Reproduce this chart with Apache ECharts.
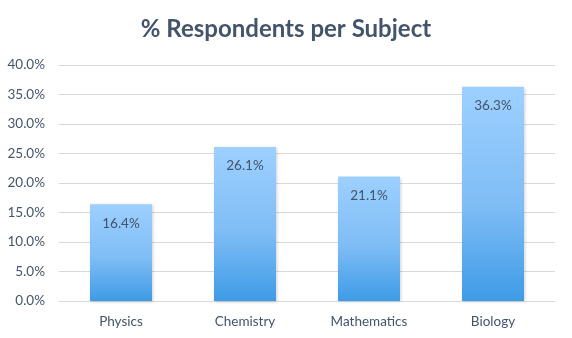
<!DOCTYPE html>
<html>
<head>
<meta charset="utf-8">
<script src="https://cdn.jsdelivr.net/npm/echarts@6/dist/echarts.min.js"></script>
<style>
  html, body { margin: 0; padding: 0; background: #fff; }
  #chart { width: 572px; height: 338px; }
</style>
</head>
<body>
<div id="chart"></div>
<script>
// Share of respondents by subject (percent)
const subjects = ['Physics', 'Chemistry', 'Mathematics', 'Biology'];
const respondentShare = [16.4, 26.1, 21.1, 36.3];

const chart = echarts.init(document.getElementById('chart'), null, { renderer: 'canvas' });

const textColor = '#44546A';
const fontFamily = 'Lato, "Open Sans", sans-serif';

chart.setOption({
  animation: false,
  title: {
    text: '% Respondents per Subject',
    left: 'center',
    top: 12,
    textStyle: { fontFamily, fontSize: 24, fontWeight: 'bold', color: textColor }
  },
  grid: { left: 59, right: 17, top: 65, bottom: 37 },
  xAxis: {
    type: 'category',
    data: subjects,
    axisLine: { lineStyle: { color: '#D9D9D9' } },
    axisTick: { show: false },
    axisLabel: { color: textColor, fontFamily, fontSize: 13.5, margin: 14 }
  },
  yAxis: {
    type: 'value',
    min: 0,
    max: 40,
    interval: 5,
    axisLine: { show: false },
    axisTick: { show: false },
    splitLine: { lineStyle: { color: '#D9D9D9' } },
    axisLabel: {
      color: textColor, fontFamily, fontSize: 13.5, margin: 14,
      formatter: v => v.toFixed(1) + '%'
    }
  },
  series: [{
    type: 'bar',
    data: respondentShare,
    barWidth: '50%',
    itemStyle: {
      color: new echarts.graphic.LinearGradient(0, 0, 0, 1, [
        { offset: 0, color: '#9DD0FF' },
        { offset: 0.55, color: '#7FBDF5' },
        { offset: 1, color: '#3E9BE6' }
      ]),
      shadowColor: 'rgba(0,0,0,0.18)',
      shadowBlur: 3,
      shadowOffsetX: 1,
      shadowOffsetY: 1
    },
    label: {
      show: true,
      position: 'insideTop',
      distance: 12,
      color: textColor,
      fontFamily,
      fontSize: 13.5,
      formatter: p => p.value.toFixed(1) + '%'
    }
  }]
});
</script>
</body>
</html>
